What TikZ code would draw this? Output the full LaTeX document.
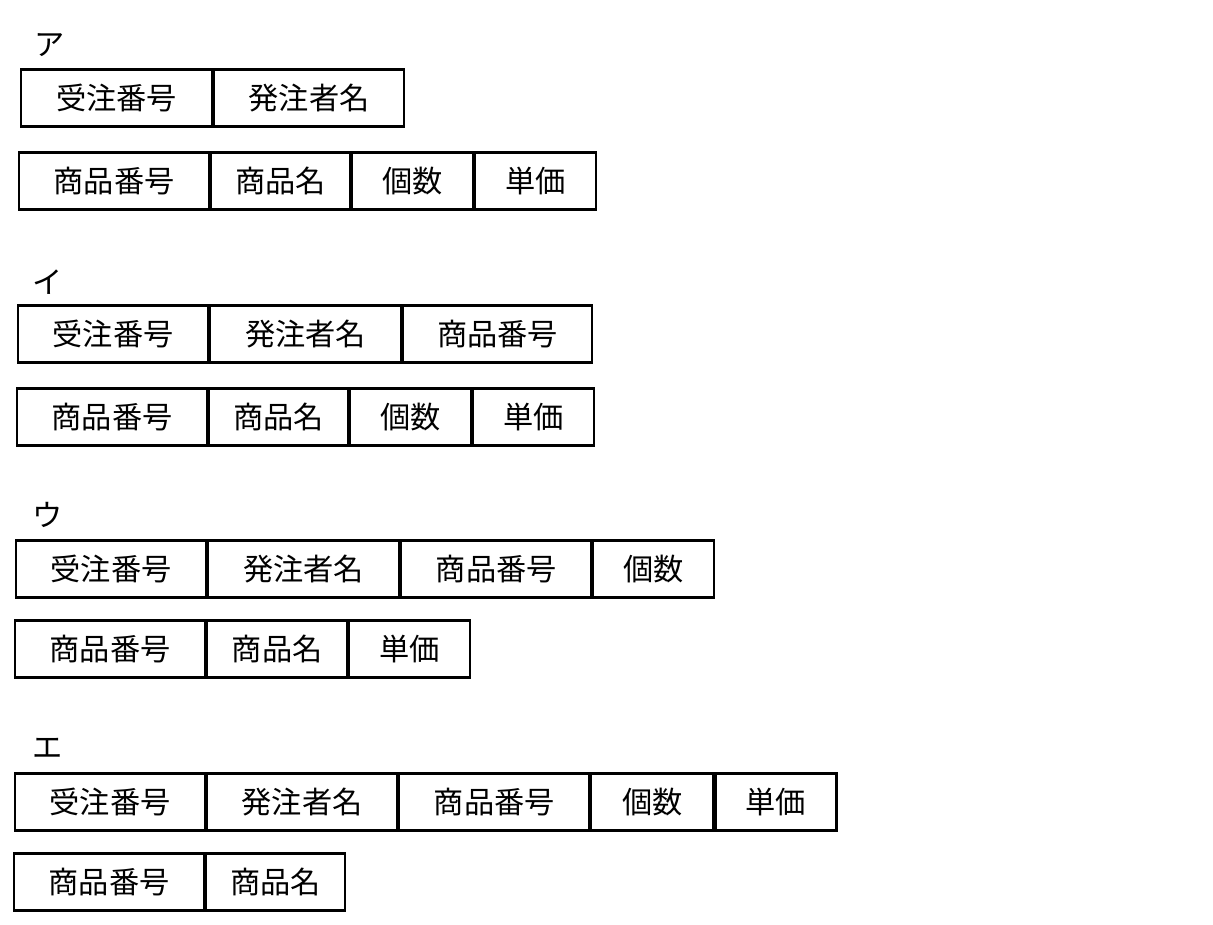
\documentclass[tikz,border=0pt]{standalone}
\usepackage{fontspec}
\setmainfont{Noto Sans CJK JP}
\usetikzlibrary{positioning}
\tikzset{
  feld/.style={draw,line width=0.6pt,inner sep=0pt,minimum height=5.7mm,anchor=west,font=\fontsize{8.6}{10}\selectfont},
  titel/.style={font=\fontsize{8.6}{10}\selectfont,anchor=west}
}
\newcommand{\zeile}[3]{% name, start coordinate, list width/text
  \coordinate (#1-0) at (#2);
  \foreach \w/\t [count=\i, remember=\i as \j (initially 0)] in {#3}
    \node[feld,minimum width=\w mm] (#1-\i) at (#1-\j.east) {\t};
}
\begin{document}
\begin{tikzpicture}[x=0.1mm,y=-0.1mm]
  \useasboundingbox (0,0) rectangle (1213,925);
  %ア
  \node[titel] (a) at (22,45) {ア};
  \zeile{a1}{20,98}{19.1/受注番号,19.0/発注者名}
  \zeile{a2}{18,181}{19.0/商品番号,13.9/商品名,12.1/個数,12.1/単価}
  %イ
  \node[titel] (i) at (20,282) {イ};
  \zeile{i1}{17,334}{19.0/受注番号,19.1/発注者名,18.9/商品番号}
  \zeile{i2}{16,417}{19.0/商品番号,13.9/商品名,12.1/個数,12.1/単価}
  %ウ
  \node[titel] (u) at (20,515) {ウ};
  \zeile{u1}{15,569}{19.0/受注番号,19.1/発注者名,19.0/商品番号,12.1/個数}
  \zeile{u2}{14,649}{19.0/商品番号,14.0/商品名,12.1/単価}
  %エ
  \node[titel] (e) at (20,748) {エ};
  \zeile{e1}{14,802}{19.0/受注番号,19.0/発注者名,19.0/商品番号,12.2/個数,12.1/単価}
  \zeile{e2}{13,882}{19.0/商品番号,13.9/商品名}
\end{tikzpicture}
\end{document}
